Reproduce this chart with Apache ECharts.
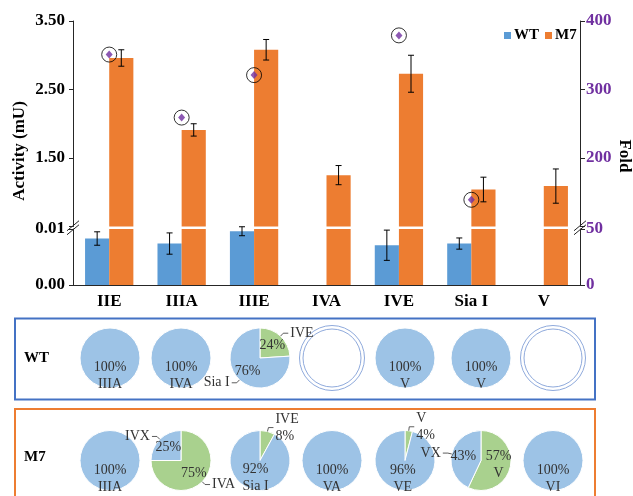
<!DOCTYPE html>
<html>
<head>
<meta charset="utf-8">
<script src="https://cdn.jsdelivr.net/npm/echarts@6/dist/echarts.min.js"></script>
<style>
html,body{margin:0;padding:0;background:#fff;}
#chart{width:633px;height:496px;}
</style>
</head>
<body>
<div id="chart"></div>
<script>
// ---------- data ----------
const categories = ['IIE', 'IIIA', 'IIIE', 'IVA', 'IVE', 'Sia I', 'V'];
const wtActivity = [0.0083, 0.0074, 0.0096, null, 0.0071, 0.0074, null];
const wtError    = [0.0012, 0.0019, 0.0008, null, 0.0027, 0.0010, null];
const m7Activity = [2.96, 1.91, 3.08, 1.25, 2.73, 1.04, 1.09];
const m7Error    = [0.12, 0.09, 0.15, 0.14, 0.27, 0.18, 0.25];
const foldChange = [351, 259, 321, null, 379, 139, null];

const wtPieProducts = [['IIIA'], ['IVA'], ['IVE', 'Sia I'], [], ['V'], ['V'], []];
const wtPieShares   = [[100], [100], [24, 76], [], [100], [100], []];
const m7PieProducts = [['IIIA'], ['IVA', 'IVX'], ['IVE', 'Sia I'], ['VA'], ['V', 'VE'], ['V', 'VX'], ['VI']];
const m7PieShares   = [[100], [75, 25], [8, 92], [100], [4, 96], [57, 43], [100]];

// ---------- styling / layout ----------
const SERIF = 'Liberation Serif';
const BLUE = '#5B9BD5', ORANGE = '#ED7D31', PURPLE = '#7030A0';
const PIE_BLUE = '#9DC3E6', PIE_GREEN = '#A9D18E';
const wtLabelModes = [['in'], ['in'], ['split', 'split'], [], ['in'], ['in'], []];
const m7LabelModes = [['in'], ['split', 'split'], ['out', 'in'], ['in'], ['out', 'in'], ['in', 'split'], ['in']];
const pieXs = [110, 181, 260, 332, 405, 481, 553];
const pieRowY = [358, 460.5];
const PIE_R = 30;

const GRID_L = 73, GRID_R = 53;
const UP_TOP = 21, UP_H = 205.5;
const LO_TOP = 229, LO_H = 56;

const axisLineStyle = { color: '#262626', width: 1 };
const labelFont = { fontFamily: SERIF, fontWeight: 'bold', fontSize: 17, color: '#000' };

function errorBarRender(sign) {
  return function (params, api) {
    const cat = api.value(0), v = api.value(1), e = api.value(2);
    const band = api.size([1, 0])[0];
    const hi = api.coord([cat, v + e]);
    const lo = api.coord([cat, v - e]);
    const x = hi[0] + sign * band / 6;
    const cap = 3;
    const st = { stroke: '#000', lineWidth: 1 };
    return {
      type: 'group',
      children: [
        { type: 'line', shape: { x1: x, y1: hi[1], x2: x, y2: lo[1] }, style: st },
        { type: 'line', shape: { x1: x - cap, y1: hi[1], x2: x + cap, y2: hi[1] }, style: st },
        { type: 'line', shape: { x1: x - cap, y1: lo[1], x2: x + cap, y2: lo[1] }, style: st }
      ]
    };
  };
}

const wtErrData = categories.map((c, i) => [i, wtActivity[i], wtError[i]]).filter(d => d[1] != null);
const m7ErrData = categories.map((c, i) => [i, m7Activity[i], m7Error[i]]).filter(d => d[1] != null);

const series = [
  // upper part (broken axis, 0.5 - 3.5 mU)
  { name: 'WT', type: 'bar', xAxisIndex: 0, yAxisIndex: 0, data: wtActivity, clip: true,
    itemStyle: { color: BLUE }, barGap: '0%', barCategoryGap: '33.3%' },
  { name: 'M7', type: 'bar', xAxisIndex: 0, yAxisIndex: 0, data: m7Activity, clip: true,
    itemStyle: { color: ORANGE }, barGap: '0%', barCategoryGap: '33.3%' },
  // lower part (0 - 0.01 mU)
  { name: 'WT', type: 'bar', xAxisIndex: 1, yAxisIndex: 2, data: wtActivity, clip: true,
    itemStyle: { color: BLUE }, barGap: '0%', barCategoryGap: '33.3%' },
  { name: 'M7', type: 'bar', xAxisIndex: 1, yAxisIndex: 2, data: m7Activity, clip: true,
    itemStyle: { color: ORANGE }, barGap: '0%', barCategoryGap: '33.3%' },
  // error bars
  { type: 'custom', xAxisIndex: 0, yAxisIndex: 0, data: m7ErrData, renderItem: errorBarRender(1), z: 5, clip: true },
  { type: 'custom', xAxisIndex: 1, yAxisIndex: 2, data: wtErrData, renderItem: errorBarRender(-1), z: 5 },
  // fold markers
  { type: 'scatter', xAxisIndex: 0, yAxisIndex: 1, data: foldChange, symbol: 'circle', symbolSize: 15,
    itemStyle: { color: 'rgba(0,0,0,0)', borderColor: '#000', borderWidth: 1 }, z: 6, silent: true },
  { type: 'scatter', xAxisIndex: 0, yAxisIndex: 1, data: foldChange, symbol: 'diamond', symbolSize: [7, 8],
    itemStyle: { color: PURPLE }, z: 7, silent: true }
];

// ---------- pies ----------
const pieText = { fontFamily: SERIF, fontSize: 14, color: '#333', lineHeight: 17 };
function addPies(products, shares, modes, cy) {
  products.forEach((names, i) => {
    const colorOf = j => (names.length === 2 ? [PIE_GREEN, PIE_BLUE][j] : PIE_BLUE);
    const dataA = names.map((n, j) => ({
      name: n, value: shares[i][j],
      itemStyle: { color: colorOf(j) },
      label: {
        show: modes[i][j] !== 'out',
        formatter: modes[i][j] === 'in' ? '{c}%\n{b}' : '{c}%'
      }
    }));
    series.push({
      type: 'pie', center: [pieXs[i], cy], radius: names.length ? [0, PIE_R] : [PIE_R - 1, PIE_R + 2.5],
      startAngle: 90, clockwise: true, silent: true, data: dataA,
      showEmptyCircle: true,
      emptyCircleStyle: { color: '#fff', borderColor: '#8FAADC', borderWidth: 1 },
      itemStyle: { borderColor: '#fff', borderWidth: 1 },
      label: Object.assign({ position: 'inside' }, pieText),
      labelLine: { show: false },
      emphasis: { disabled: true }
    });
    if (modes[i].some(m => m !== 'in')) {
      const dataB = names.map((n, j) => ({
        name: n, value: shares[i][j],
        label: { show: modes[i][j] !== 'in', formatter: modes[i][j] === 'out' ? '{b}\n{c}%' : '{b}' },
        labelLine: { show: modes[i][j] !== 'in' }
      }));
      series.push({
        type: 'pie', center: [pieXs[i], cy], radius: [0, PIE_R],
        startAngle: 90, clockwise: true, silent: true, data: dataB, z: 3,
        itemStyle: { color: 'rgba(0,0,0,0)', borderWidth: 0 },
        label: Object.assign({ position: 'outside', distanceToLabelLine: 2 }, pieText),
        labelLine: { length: 4, length2: 5, lineStyle: { color: '#333', width: 0.8 } },
        emphasis: { disabled: true }
      });
    }
  });
}
addPies(wtPieProducts, wtPieShares, wtLabelModes, pieRowY[0]);
addPies(m7PieProducts, m7PieShares, m7LabelModes, pieRowY[1]);

// ---------- decorations ----------
function breakMark(cx, cy) {
  const els = [];
  [-2, 2].forEach(d => {
    els.push({ type: 'line', shape: { x1: cx - 6, y1: cy + 5 + d, x2: cx + 6, y2: cy - 5 + d },
      style: { stroke: '#262626', lineWidth: 1 }, z: 10 });
  });
  return els;
}
const breakY = (UP_TOP + UP_H + LO_TOP) / 2;
const graphics = [
  { type: 'rect', shape: { x: 15, y: 318.5, width: 580, height: 81 }, style: { fill: 'none', stroke: '#4472C4', lineWidth: 2 } },
  { type: 'rect', shape: { x: 15, y: 409, width: 580, height: 110 }, style: { fill: 'none', stroke: ORANGE, lineWidth: 2 } },
  { type: 'text', x: 24, y: 358, style: { text: 'WT', font: 'bold 15px ' + SERIF, fill: '#000', verticalAlign: 'middle' } },
  { type: 'text', x: 24, y: 457, style: { text: 'M7', font: 'bold 15px ' + SERIF, fill: '#000', verticalAlign: 'middle' } },
  { type: 'text', x: 20, y: 151, rotation: Math.PI / 2, style: { text: 'Activity (mU)', font: 'bold 17px ' + SERIF, fill: '#000', align: 'center', verticalAlign: 'middle' } },
  { type: 'text', x: 624, y: 156, rotation: -Math.PI / 2, style: { text: 'Fold', font: 'bold 17px ' + SERIF, fill: '#000', align: 'center', verticalAlign: 'middle' } }
].concat(breakMark(GRID_L, breakY), breakMark(633 - GRID_R, breakY));

const option = {
  animation: false,
  backgroundColor: '#fff',
  legend: {
    data: ['WT', 'M7'], left: 499, top: 23, icon: 'rect', itemWidth: 7, itemHeight: 7, itemGap: 6,
    textStyle: { fontFamily: SERIF, fontWeight: 'bold', fontSize: 15, color: '#000', padding: [0, 0, 0, -2] },
    selectedMode: false
  },
  grid: [
    { left: GRID_L, right: GRID_R, top: UP_TOP, height: UP_H },
    { left: GRID_L, right: GRID_R, top: LO_TOP, height: LO_H }
  ],
  xAxis: [
    { type: 'category', gridIndex: 0, data: categories, show: false },
    { type: 'category', gridIndex: 1, data: categories,
      axisLine: { lineStyle: axisLineStyle }, axisTick: { length: 4, lineStyle: axisLineStyle },
      axisLabel: Object.assign({ margin: 8 }, labelFont) }
  ],
  yAxis: [
    { type: 'value', gridIndex: 0, min: 0.5, max: 3.5, interval: 1, splitLine: { show: false },
      axisLine: { show: true, lineStyle: axisLineStyle }, axisTick: { show: true, length: 4, lineStyle: axisLineStyle },
      axisLabel: Object.assign({ margin: 8, formatter: v => (v < 1 ? '' : v.toFixed(2)) }, labelFont) },
    { type: 'value', gridIndex: 0, position: 'right', min: 100, max: 400, interval: 100, splitLine: { show: false },
      axisLine: { show: true, lineStyle: axisLineStyle }, axisTick: { show: true, length: 5, lineStyle: axisLineStyle },
      axisLabel: Object.assign({}, labelFont, { margin: 6, color: PURPLE, formatter: v => (v <= 100 ? '' : String(v)) }) },
    { type: 'value', gridIndex: 1, min: 0, max: 0.01, interval: 0.01, splitLine: { show: false },
      axisLine: { show: true, lineStyle: axisLineStyle }, axisTick: { show: true, length: 4, lineStyle: axisLineStyle },
      axisLabel: Object.assign({ margin: 8, formatter: v => v.toFixed(2) }, labelFont) },
    { type: 'value', gridIndex: 1, position: 'right', min: 0, max: 50, interval: 50, splitLine: { show: false },
      axisLine: { show: true, lineStyle: axisLineStyle }, axisTick: { show: true, length: 5, lineStyle: axisLineStyle },
      axisLabel: Object.assign({}, labelFont, { margin: 6, color: PURPLE }) }
  ],
  graphic: graphics,
  series: series
};

const chart = echarts.init(document.getElementById('chart'), null, { renderer: 'canvas' });
chart.setOption(option);
</script>
</body>
</html>
